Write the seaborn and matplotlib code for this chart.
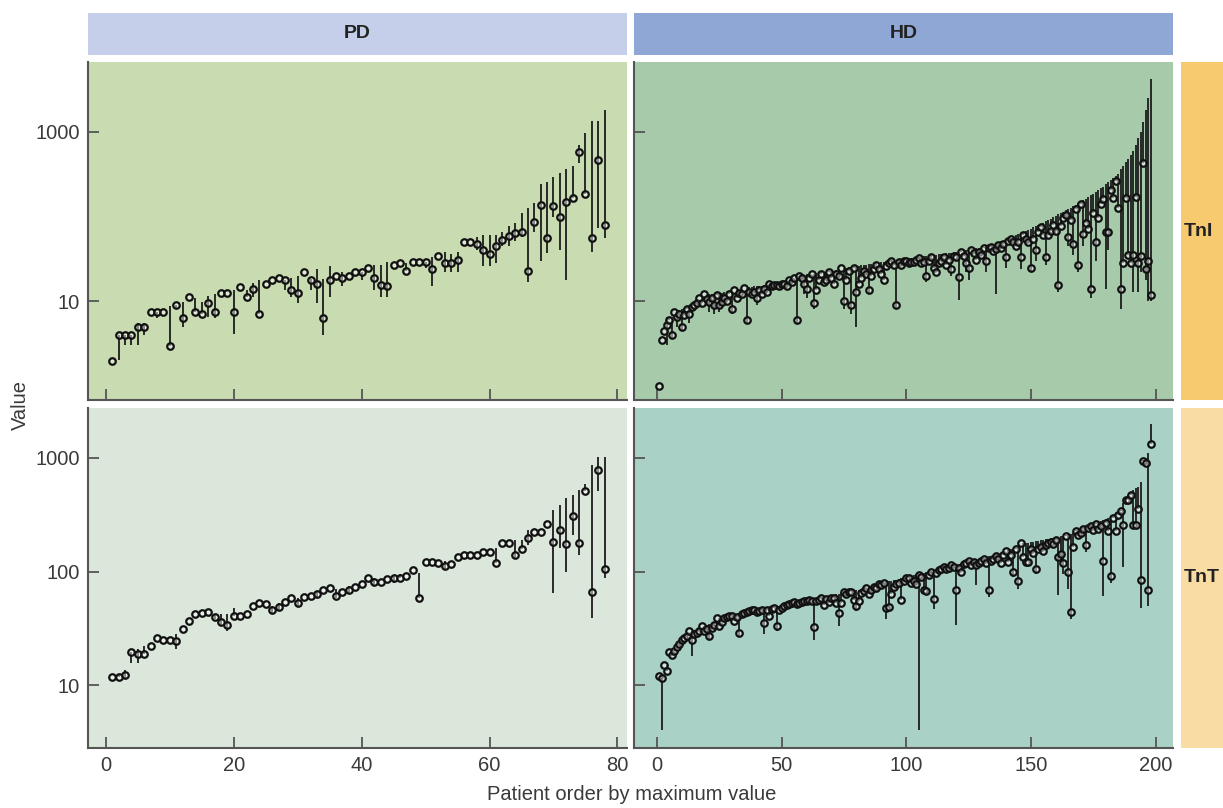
import numpy as np
import pandas as pd
import matplotlib
matplotlib.use("Agg")
import matplotlib.pyplot as plt
import seaborn as sns
from matplotlib.ticker import FixedLocator, FixedFormatter, NullLocator

sns.set_theme(style="white")
plt.rcParams['font.family'] = ['Liberation Sans', 'DejaVu Sans']

# ---------------- data ----------------
groups = ["PD", "HD"]
markers_ = ["TnI", "TnT"]

pd_tni_val = [1.95,4.0,4.0,4.0,4.9,4.9,7.4,7.4,7.4,2.95,
              9.1,6.4,11.2,7.4,7.0,9.4,7.4,12.5,12.5,7.4,
              14.7,11.2,13.8,7.0,15.9,17.8,19,17.8,13.5,12.5,
              22,18,16,6.4,18,20,19,20,22,22,
              24.5,19,15.5,15,27,28,22.6,29,29,29,
              24,34,28,28,30.5,50,50,47,40,36,
              45,53,59,64,65,23,86,136,56,133,
              100,150,165,580,185,56,466,80]
pd_tni_lo = [1.95,2.0,3.0,3.0,3.0,4.0,7.4,6.3,7.4,2.95,
             8.0,4.9,11.2,7.4,7.0,6.5,6.3,12.5,12.5,4.1,
             14.7,11.2,11.2,7.0,15.9,17.8,19,13.6,11.2,9.4,
             22,13.5,9.4,4.0,11.2,20,15,20,22,18,
             24.5,13.5,11.2,11.2,27,28,22.6,29,29,25,
             15,34,22,22,22,50,50,40,26,26,
             28,45,45,52,58,17,66,30,37,98,
             40,18,165,430,185,38,73,56]
pd_tni_hi = [1.95,4.0,4.0,4.0,5.5,5.5,7.4,7.4,7.4,8.7,
             9.1,9.8,11.2,11,9.8,11.5,12,12.5,12.5,13.6,
             14.7,13.6,16.5,17.8,15.9,17.8,19,17.8,19,20,
             22,18.5,24,18.5,26,20,22,20,22,22,
             24.5,27,27,29,27,28,28,29,29,29,
             33,34,38,36,38,50,50,57,60,61,
             61,65,78,84,110,126,146,240,255,290,
             330,365,400,700,970,1350,1350,1820]

pd_tnt_val = [11.8,11.8,12.3,19.5,18.8,18.8,22,26,25,25,
              24.5,31,37,42,43,44,40,36,34,41,
              41,42,50,53,52,46,49,54,59,53,
              60,61,63,69,72,61,66,69,73,78,
              88,81,81,86,88,88,91,103,59,121,
              121,119,112,116,134,140,140,140,149,149,
              119,178,178,140,158,197,224,224,263,182,
              232,175,308,178,512,66,784,105]
pd_tnt_lo = [11.8,11.8,11.5,15.8,15.8,18.8,22,26,25,25,
             21,31,37,42,43,44,38,33,30,41,
             41,42,50,53,52,43,45,54,59,50,
             60,61,60,69,72,58,66,64,73,78,
             88,76,81,86,80,88,91,103,59,121,
             121,119,105,116,134,140,140,140,149,149,
             119,178,178,130,158,171,224,224,263,65,
             161,99,210,140,512,39,512,88]
pd_tnt_hi = [11.8,12.5,13.5,19.5,21,22,22,26,25,25,
             28,31,37,42,43,44,42,42,42,48,
             41,42,50,53,52,50,53,54,59,58,
             60,61,68,69,72,70,66,75,73,78,
             88,88,81,86,92,95,91,103,97,121,
             121,119,125,116,134,140,140,140,149,149,
             160,178,178,190,190,232,224,224,263,348,
             386,444,472,522,590,870,1020,1020]

hd_tni_val = [1.0,3.5,4.4,5.2,6.0,4.0,7.4,6.5,7.0,4.9,
              6.8,8.0,7.0,8.5,9.0,9.5,10.8,9.5,12,10.5,
              9.8,11,9.0,11.7,9.0,9.8,11,10,12,8.0,
              13.5,11,12.5,12,14.5,6.0,13,12,13,11,
              13.5,12,14,13,16,15,15.5,15.5,15,16,
              16,15,18,17,19,6.0,20,19,16,14,
              19,21,9.4,13.5,18,21,17,18,22,19,
              16,21,20,25,10,18,23,9.0,25,13,
              16,19,23,21,13.5,20,24,27,24,21,
              18,26,28,30,27,9.0,29,27,30,30,
              28,29,29,31,32,28,29,20,30,33,
              25,22,28,30,33,27,31,24,34,33,
              19.5,38,34,28,25,40,37,31,38,35,
              42,30,43,44,39,41,46,42,47,33,
              52,55,50,45,50,33,60,55,50,25,
              55,40,65,75,60,33,60,68,80,68,
              15.5,78,95,104,58,90,47,122,27,140,
              62,85,72,14,110,50,95,140,160,65,
              65,205,165,263,125,14,28,165,35,28,
              35,170,28,34,430,24,30,11.7]
hd_tni_lo = [1.0,3.5,4.4,3.0,6.0,3.6,7.4,5.0,7.0,4.5,
             6.8,8.0,5.5,8.5,9.0,9.5,10.8,9.5,12,10.5,
             7.5,11,7.0,11.7,7.5,9.8,11,10,12,7.0,
             13.5,11,12.5,12,14.5,5.5,13,12,13,9.0,
             13.5,12,14,13,16,15,15.5,15.5,15,16,
             16,15,18,17,19,5.5,20,19,12,11,
             19,21,8.0,13.5,18,21,17,18,22,19,
             16,21,20,25,8.0,18,23,7.0,25,4.9,
             16,19,23,21,12,20,24,27,24,21,
             18,26,28,30,27,8.0,29,27,30,30,
             28,29,29,31,32,28,29,17,30,33,
             25,22,28,30,33,27,31,20,34,33,
             10.4,38,34,22,18,40,37,31,38,35,
             42,22,43,44,39,12,46,42,47,25,
             52,55,50,45,50,24,60,55,50,22,
             55,30,65,75,60,27,60,68,80,68,
             13,78,95,104,45,90,35,122,22,140,
             45,85,72,11,110,30,95,140,160,14,
             40,205,165,263,125,8,28,165,35,28,
             13,170,13,22,430,18,10,10]
hd_tni_hi = [1.0,3.5,4.4,6.5,6.5,6.5,7.4,7.5,7.8,8.0,
             8.2,8.5,8.8,9.0,9.3,9.6,10.8,11,12,12,
             12,12.2,12.3,12.5,12.5,12.6,12.8,13,13,13.3,
             13.5,13.5,13.7,14,14.5,14.5,14.6,14.8,15,15,
             15,15.2,15.4,15.5,16,16,16,16.2,16.5,16.8,
             17,17.5,18,18,19,20,20,20,20.5,21,
             21,21,21,21.5,21.5,22,22,22,22.5,23,
             23,23.5,24,25,25,25,25.5,25.5,26,26,
             26,26.5,27,27,27.5,27.5,28,28,28.5,29,
             29,29.5,29.5,30,30,30,30.5,31,31,31.5,
             32,32,32.5,33,33,33.5,34,34,34.5,35,
             35,35.5,36,36,36.5,37,37,37.5,38,38,
             38.5,39,39.5,40,40.5,41,41.5,42,42.5,43,
             44,45,46,47,48,49,50,51,52,54,
             55,56,58,60,62,64,66,68,70,72,
             75,78,80,82,85,88,90,94,98,102,
             106,110,114,118,122,127,132,137,143,150,
             156,162,170,178,186,195,205,215,225,240,
             255,270,285,300,320,360,400,440,480,530,
             600,700,850,1000,1300,1800,2500,4200]

hd_tnt_val = [12,11.5,15,13.3,19.5,18.4,20,21.7,23,25,
              26,27,30,25,28,29,30,33,30,31,
              27,32,34,39,33,36,39,40,41,41,
              37,40,29,42,43,44,45,46,46,44,
              45,46,35,46,41,47,48,33,46,48,
              50,51,52,53,54,52,53,54,55,55,
              56,55,32.5,55,56,59,51,57,54,58,
              59,53,43,53,66,63,66,66,56,50,
              55,65,68,71,64,69,73,72,77,76,
              79,48,49,64,73,78,80,56,83,88,
              87,80,82,78,93,90,69,68,93,100,
              57,97,104,106,110,106,108,114,110,69,
              108,100,116,119,125,114,121,114,118,125,
              130,120,69,125,130,137,128,119,140,153,
              121,140,100,158,82,177,134,121,121,158,
              145,105,158,165,153,170,178,183,175,190,
              134,143,119,205,100,44,165,228,210,220,
              235,172,240,250,230,260,235,250,125,270,
              228,91,295,228,315,340,257,428,428,470,
              257,257,355,84,940,900,69,1330]
hd_tnt_lo = [12,4.0,15,13.3,19.5,18.4,20,21.7,23,25,
             26,27,30,18,28,29,30,33,30,31,
             25,32,34,39,33,36,39,40,41,41,
             37,40,27,42,43,44,45,46,46,44,
             45,46,28,46,41,47,48,30,46,48,
             50,51,52,53,54,52,53,54,55,55,
             56,55,25,55,56,59,51,57,54,58,
             59,53,33,53,66,63,66,66,56,45,
             55,65,68,71,64,69,73,72,77,76,
             79,38,49,64,73,78,80,56,83,88,
             87,80,82,78,4.0,90,69,68,93,100,
             47,97,104,106,110,106,108,114,110,34,
             108,100,116,119,125,114,121,76,118,125,
             130,120,60,125,130,137,128,119,140,153,
             121,140,90,158,70,177,134,121,121,158,
             145,95,158,165,153,170,178,183,175,190,
             62,143,95,205,70,38,165,228,210,220,
             235,150,240,250,230,260,235,250,61,270,
             228,80,295,228,315,340,110,428,428,470,
             257,257,355,48,940,900,50,1330]
hd_tnt_hi = [12,12.2,15,15,19.5,19.5,20.5,22,23.5,25.5,
             26,27.5,30,30,30.5,31,32,33,33.5,34,
             34.5,35,36,39,39,39.5,40,41,41.5,42,
             42,42.5,43,43,44,45,46,46.5,47,47,
             47.5,48,48,48.5,49,49,49.5,50,50,51,
             51,52,52.5,53,54,54.5,55,55,56,56,
             57,57.5,58,58,59,59.5,60,60,61,62,
             62,63,64,65,66,66,67,67,68,69,
             69,70,71,72,73,74,75,76,77,78,
             80,81,82,83,84,85,86,87,88,90,
             91,92,94,95,96,97,98,99,100,101,
             102,103,105,107,110,111,112,114,115,116,
             117,118,119,121,125,126,127,128,129,130,
             132,134,136,138,140,142,144,146,149,153,
             155,157,159,161,163,177,178,179,180,181,
             182,184,186,188,190,192,194,196,198,200,
             202,204,206,208,212,216,220,230,235,240,
             245,250,255,260,265,270,275,280,285,290,
             295,300,310,320,330,345,400,440,470,500,
             520,540,560,620,960,1000,1100,2000]

x_ticks = {"PD": [0, 20, 40, 60, 80], "HD": [0, 50, 100, 150, 200]}
y_ticks = {"TnI": [10, 1000], "TnT": [10, 100, 1000]}

series = {
    ("PD", "TnI"): (pd_tni_val, pd_tni_lo, pd_tni_hi),
    ("HD", "TnI"): (hd_tni_val, hd_tni_lo, hd_tni_hi),
    ("PD", "TnT"): (pd_tnt_val, pd_tnt_lo, pd_tnt_hi),
    ("HD", "TnT"): (hd_tnt_val, hd_tnt_lo, hd_tnt_hi),
}

# ---------------- style / layout ----------------
W, H = 1223, 808
fig = plt.figure(figsize=(W / 100, H / 100), dpi=100)
fig.patch.set_facecolor("white")


def rect(x0, y0, x1, y1):
    return [x0 / W, 1 - y1 / H, (x1 - x0) / W, (y1 - y0) / H]


panel_box = {
    ("PD", "TnI"): (88, 62, 627, 400),
    ("HD", "TnI"): (634, 62, 1173, 400),
    ("PD", "TnT"): (88, 408, 627, 748),
    ("HD", "TnT"): (634, 408, 1173, 748),
}
panel_bg = {
    ("PD", "TnI"): "#c9dbb1",
    ("HD", "TnI"): "#a7cbaa",
    ("PD", "TnT"): "#dbe7da",
    ("HD", "TnT"): "#a9d1c6",
}
xlims = {"PD": (-2.8, 81.5), "HD": (-9.2, 207)}
ylims = {"TnI": (0.68, 6700), "TnT": (2.8, 2750)}
strip_col = {"PD": "#c5cfe9", "HD": "#8fa7d5"}
strip_row = {"TnI": "#f8ca70", "TnT": "#f9dca4"}

spine_c = "#555555"
text_c = "#3a3a3a"

for (g, m), box in panel_box.items():
    ax = fig.add_axes(rect(*box))
    ax.set_facecolor(panel_bg[(g, m)])
    val, lo, hi = series[(g, m)]
    n = len(val)
    df = pd.DataFrame({"patient": np.arange(1, n + 1), "value": val,
                       "low": lo, "high": hi})
    ax.vlines(df["patient"], df["low"], df["high"], color="#1c1c1c",
              linewidth=1.3, zorder=2)
    sns.scatterplot(data=df, x="patient", y="value", ax=ax, marker="o",
                    s=22, color="white", edgecolor="#111111",
                    linewidth=1.6, zorder=3, legend=False)
    for coll in ax.collections[1:]:
        coll.set_facecolor((1, 1, 1, 0.45))
    ax.set_yscale("log")
    ax.set_xlim(*xlims[g])
    ax.set_ylim(*ylims[m])
    ax.set_xlabel("")
    ax.set_ylabel("")
    ax.yaxis.set_major_locator(FixedLocator(y_ticks[m]))
    ax.yaxis.set_major_formatter(FixedFormatter([str(t) for t in y_ticks[m]]))
    ax.yaxis.set_minor_locator(NullLocator())
    ax.xaxis.set_major_locator(FixedLocator(x_ticks[g]))
    ax.xaxis.set_major_formatter(FixedFormatter([str(t) for t in x_ticks[g]]))
    ax.tick_params(axis="both", which="major", direction="in", length=8,
                   width=1.3, color=spine_c, labelcolor=text_c,
                   labelsize=14.5, pad=6, bottom=True, left=True)
    if m == "TnI":
        ax.tick_params(axis="x", labelbottom=False)
    if g == "HD":
        ax.tick_params(axis="y", labelleft=False)
    for s in ["top", "right"]:
        ax.spines[s].set_visible(False)
    for s in ["left", "bottom"]:
        ax.spines[s].set_visible(True)
        ax.spines[s].set_color(spine_c)
        ax.spines[s].set_linewidth(1.5)
    ax.grid(False)

# column strips
col_box = {"PD": (88, 13, 627, 55), "HD": (634, 13, 1173, 55)}
for g, box in col_box.items():
    sa = fig.add_axes(rect(*box))
    sa.set_facecolor(strip_col[g])
    sa.set_xticks([]); sa.set_yticks([])
    for s in sa.spines.values():
        s.set_visible(False)
    sa.text(0.5, 0.5, g, transform=sa.transAxes, ha="center", va="center",
            fontsize=14, fontweight="bold", color="#222222")

# row strips
row_box = {"TnI": (1181, 62, 1240, 400), "TnT": (1181, 408, 1240, 748)}
for m, box in row_box.items():
    sa = fig.add_axes(rect(*box))
    sa.set_facecolor(strip_row[m])
    sa.set_xticks([]); sa.set_yticks([])
    for s in sa.spines.values():
        s.set_visible(False)
    sa.text(3 / 59, 0.5, m, transform=sa.transAxes, ha="left", va="center",
            fontsize=14, fontweight="bold", color="#222222")

fig.text(20 / W, 1 - 405 / H, "Value", rotation=90, ha="center", va="center",
         fontsize=14.5, color=text_c)
fig.text(632 / W, 1 - 795 / H, "Patient order by maximum value", ha="center",
         va="center", fontsize=14.5, color=text_c)

fig.savefig("out.png", dpi=100, facecolor="white")
